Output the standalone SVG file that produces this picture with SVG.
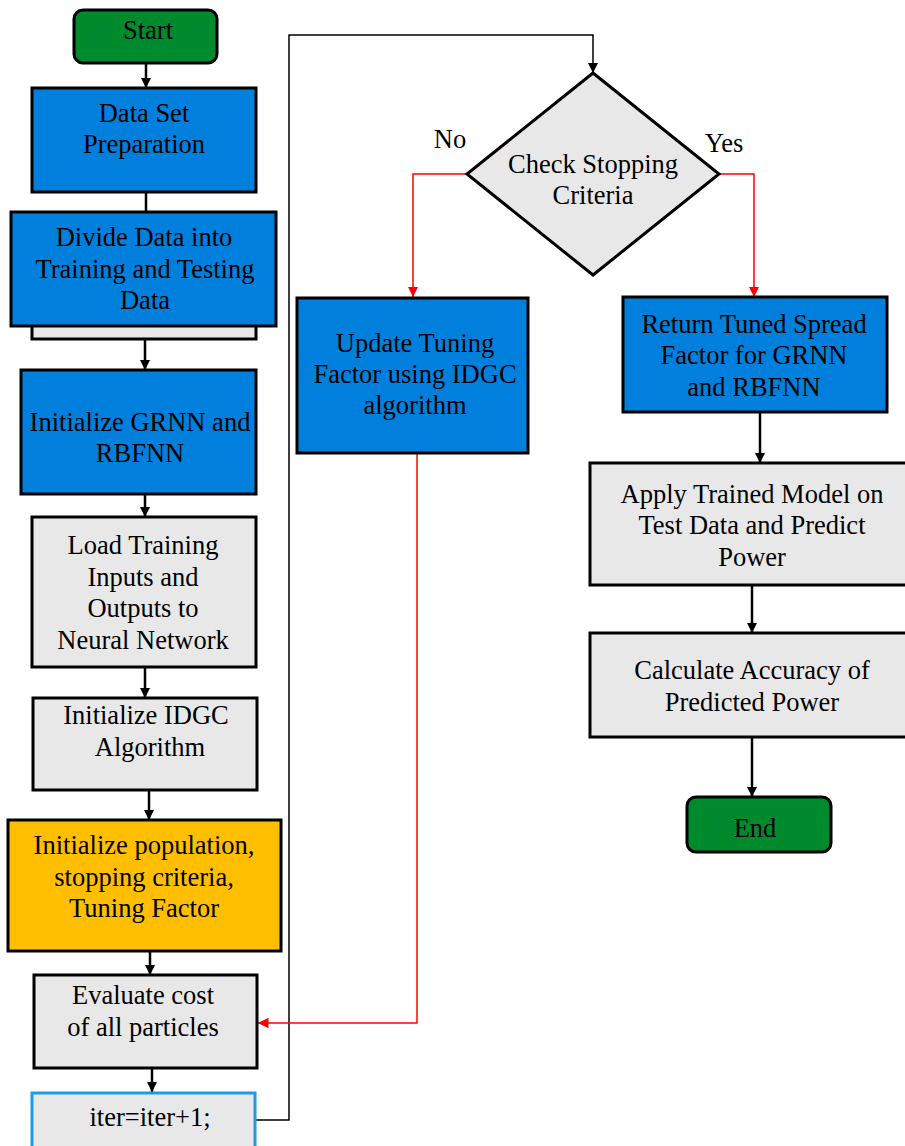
<svg xmlns="http://www.w3.org/2000/svg" width="905" height="1146" viewBox="0 0 905 1146">
<defs>
<marker id="ab" viewBox="0 0 10 10" refX="10" refY="5" markerWidth="4" markerHeight="4" markerUnits="strokeWidth" orient="auto"><path d="M0,0 L10,5 L0,10 z" fill="#000"/></marker>
<marker id="abt" viewBox="0 0 10 10" refX="10" refY="5" markerWidth="7" markerHeight="7" markerUnits="strokeWidth" orient="auto"><path d="M0,0 L10,5 L0,10 z" fill="#000"/></marker>
<marker id="ar" viewBox="0 0 10 10" refX="10" refY="5" markerWidth="7" markerHeight="7" markerUnits="strokeWidth" orient="auto"><path d="M0,0 L10,5 L0,10 z" fill="#f00"/></marker>
</defs>
<style>
text{font-family:"Liberation Serif","Times New Roman",serif;font-size:26.5px;fill:#000;text-anchor:middle}
.blue{fill:#0080DC;stroke:#000;stroke-width:3}
.gray{fill:#E8E8E8;stroke:#000;stroke-width:3}
.green{fill:#008A2E;stroke:#000;stroke-width:3}
.orange{fill:#FFBF00;stroke:#000;stroke-width:3}
.cb{fill:none;stroke:#000;stroke-width:2.5}
.ct{fill:none;stroke:#000;stroke-width:1.5}
.cr{fill:none;stroke:#f00;stroke-width:1.5}
</style>
<g id="connectors">
<line class="cb" x1="146" y1="63" x2="146" y2="88" marker-end="url(#ab)"/>
<line class="cb" x1="146" y1="192" x2="146" y2="212"/>
<line class="cb" x1="145" y1="339" x2="145" y2="370" marker-end="url(#ab)"/>
<line class="cb" x1="145" y1="490" x2="145" y2="517" marker-end="url(#ab)"/>
<line class="cb" x1="145" y1="667" x2="145" y2="698" marker-end="url(#ab)"/>
<line class="cb" x1="149" y1="790" x2="149" y2="820" marker-end="url(#ab)"/>
<line class="cb" x1="150" y1="951" x2="150" y2="975" marker-end="url(#ab)"/>
<line class="cb" x1="152" y1="1068" x2="152" y2="1092" marker-end="url(#ab)"/>
<polyline class="ct" points="255,1120 289,1120 289,35 593,35 593,73" marker-end="url(#abt)"/>
<polyline class="cr" points="467,174 413,174 413,297" marker-end="url(#ar)"/>
<polyline class="cr" points="719,174 754,174 754,297" marker-end="url(#ar)"/>
<polyline class="cr" points="417,453 417,1023 258,1023" marker-end="url(#ar)"/>
<line class="cb" x1="760" y1="412" x2="760" y2="463" marker-end="url(#ab)"/>
<line class="cb" x1="752" y1="585" x2="752" y2="633" marker-end="url(#ab)"/>
<line class="cb" x1="752" y1="737" x2="752" y2="797" marker-end="url(#ab)"/>
</g>
<g id="start"><rect class="green" x="74" y="10" width="143" height="53" rx="9"/><text x="148" y="39">Start</text></g>
<g id="dataset"><rect class="blue" x="32" y="88" width="224" height="104"/><text x="144" y="122">Data Set</text><text x="144" y="153">Preparation</text></g>
<g id="divide"><rect class="gray" x="32" y="300" width="224" height="39"/><rect class="blue" x="11" y="212" width="265" height="114"/><text x="144" y="246">Divide Data into</text><text x="145" y="278">Training and Testing</text><text x="145" y="309">Data</text></g>
<g id="initgrnn"><rect class="blue" x="21" y="370" width="235" height="124"/><text x="140" y="431">Initialize GRNN and</text><text x="140" y="462">RBFNN</text></g>
<g id="load"><rect class="gray" x="32" y="517" width="224" height="150"/><text x="143" y="554">Load Training</text><text x="143" y="586">Inputs and</text><text x="143" y="617">Outputs to</text><text x="143" y="649">Neural Network</text></g>
<g id="initidgc"><rect class="gray" x="33" y="698" width="224" height="92"/><text x="146" y="724">Initialize IDGC</text><text x="150" y="756">Algorithm</text></g>
<g id="initpop"><rect class="orange" x="8" y="820" width="273" height="131"/><text x="144" y="854">Initialize population,</text><text x="144" y="886">stopping criteria,</text><text x="144" y="917">Tuning Factor</text></g>
<g id="evaluate"><rect class="gray" x="34" y="975" width="223" height="93"/><text x="143" y="1004">Evaluate cost</text><text x="143" y="1036">of all particles</text></g>
<g id="iter"><rect x="32" y="1093" width="223" height="60" fill="#E8E8E8" stroke="#1E9BE6" stroke-width="3"/><text x="150" y="1126">iter=iter+1;</text></g>
<g id="check"><polygon class="gray" points="593,73 719,174 593,275 467,174"/><text x="593" y="173">Check Stopping</text><text x="593" y="204">Criteria</text></g>
<g id="labels"><text x="450" y="148">No</text><text x="724" y="152">Yes</text></g>
<g id="update"><rect class="blue" x="297" y="298" width="231" height="155"/><text x="415" y="352">Update Tuning</text><text x="415" y="383">Factor using IDGC</text><text x="415" y="414">algorithm</text></g>
<g id="return"><rect class="blue" x="623" y="297" width="264" height="115"/><text x="754" y="333">Return Tuned Spread</text><text x="754" y="364">Factor for GRNN</text><text x="754" y="396">and RBFNN</text></g>
<g id="apply"><rect class="gray" x="590" y="463" width="322" height="122"/><text x="752" y="503">Apply Trained Model on</text><text x="752" y="534">Test Data and Predict</text><text x="752" y="566">Power</text></g>
<g id="calc"><rect class="gray" x="590" y="633" width="322" height="104"/><text x="752" y="679">Calculate Accuracy of</text><text x="752" y="711">Predicted Power</text></g>
<g id="end"><rect class="green" x="687" y="797" width="144" height="55" rx="9"/><text x="755" y="837">End</text></g>
</svg>
